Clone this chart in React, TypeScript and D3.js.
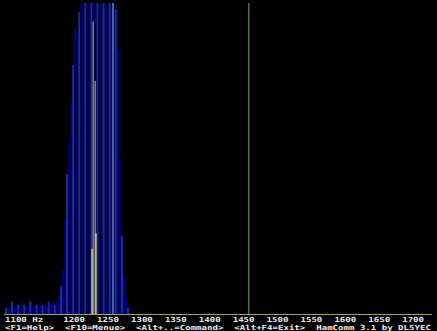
import * as d3 from "d3"

// spectrum bins: first bin frequency and spacing (Hz)
const binStart = 1098
const binStep = 3
// magnitude per bin, 0..100 (full height)
const spectrum = [
  2, 3, 2, 4, 2, 3, 3, 2, 4, 3, 2, 3, 4, 2, 3, 3, 2, 4, 3, 3, 2, 4, 3, 4, 3, 4,
  6, 9, 14, 30, 45, 55, 68, 80, 92, 90, 97,
  100, 100, 100, 100, 100, 100, 100, 100, 100, 100, 100, 100, 100, 100, 100, 100,
  100, 98, 85, 50, 25, 12, 5, 2,
]

// peak hold lines
const peakFreqs = [1226.5, 1229.5, 1255.8]
const peakValues = [94, 75, 100]
// average lines
const avgFreqs = [1225, 1230.5]
const avgValues = [21, 26]

const markerFreq = 1456
const tickFreqs = [1100, 1200, 1250, 1300, 1350, 1400, 1450, 1500, 1550, 1600, 1650, 1700]
const tickLabels = ["1100 Hz", "1200", "1250", "1300", "1350", "1400", "1450", "1500", "1550", "1600", "1650", "1700"]
const statusText = "<F1=Help>  <F10=Menue>  <Alt+..=Command>  <Alt+F4=Exit>  HamComm 3.1 by DL5YEC"

const W = 437
const H = 331

export default function App() {
  const x = d3.scaleLinear().domain([1095, 1727]).range([4, 432.5])
  const y = d3.scaleLinear().domain([0, 100]).range([314, 3])
  const bw = x(binStart + binStep) - x(binStart)
  const font = "'DejaVu Sans Mono', monospace"
  const binColors = ["#1c2c98", "#000070", "#00005e"]

  return (
    <svg width={W} height={H} style={{ position: "absolute", left: 0, top: 0, background: "#000" }}>
      <rect width={W} height={H} fill="#000" />
      {spectrum.map((v, i) => {
        const f = binStart + i * binStep
        return (
          <rect
            key={i}
            x={x(f) - bw / 2}
            y={y(v)}
            width={bw}
            height={y(0) - y(v)}
            fill={binColors[i % 3]}
          />
        )
      })}
      {peakFreqs.map((f, i) => (
        <rect
          key={"p" + i}
          x={x(f) - 0.7}
          y={y(peakValues[i])}
          width={1.4}
          height={y(0) - y(peakValues[i])}
          fill={i === 2 ? "#6a86c8" : "#8c8c84"}
        />
      ))}
      {avgFreqs.map((f, i) => (
        <rect
          key={"a" + i}
          x={x(f) - 0.8}
          y={y(avgValues[i])}
          width={1.6}
          height={y(0) - y(avgValues[i])}
          fill="#c8c48a"
        />
      ))}
      <line x1={x(markerFreq)} x2={x(markerFreq)} y1={y(100)} y2={y(0)} stroke="#4a8a48" strokeWidth={1.3} />
      <line x1={4} x2={432} y1={314.5} y2={314.5} stroke="#a0a060" strokeWidth={1} />
      {tickFreqs.map((f, i) => (
        <text
          key={"t" + i}
          x={i === 0 ? 5 : x(f) - 12}
          y={321.5}
          fill="#e8e8e8"
          fontFamily={font}
          fontWeight="bold"
          fontSize={7}
          textLength={tickLabels[i].length * 5.46}
          lengthAdjust="spacingAndGlyphs"
        >
          {tickLabels[i]}
        </text>
      ))}
      <text
        x={5}
        y={330}
        fill="#f0f0f0"
        fontFamily={font}
        fontWeight="bold"
        fontSize={7}
        textLength={statusText.length * 5.46}
        lengthAdjust="spacingAndGlyphs"
        style={{ whiteSpace: "pre" }}
      >
        {statusText}
      </text>
    </svg>
  )
}
